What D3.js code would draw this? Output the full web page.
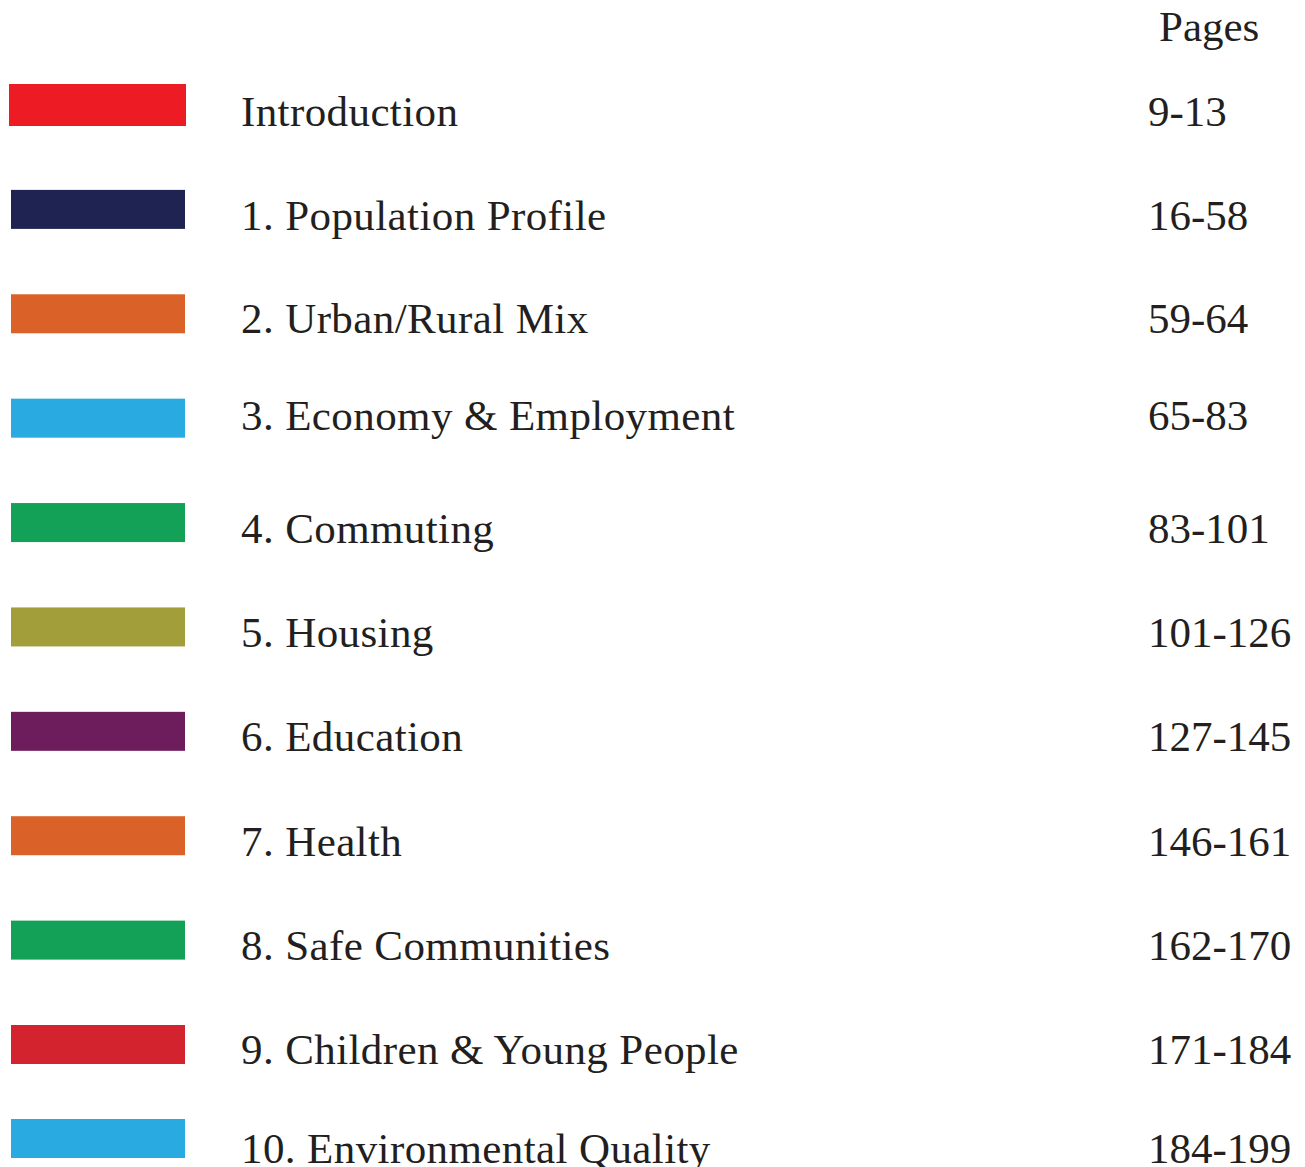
<!DOCTYPE html>
<html>
<head>
<meta charset="utf-8">
<script src="https://cdn.jsdelivr.net/npm/d3@7"></script>
<style>
  body { margin: 0; background: #fff; }
  text { font-family: "Liberation Serif", "DejaVu Serif", serif; fill: #231f20; }
</style>
</head>
<body>
<div id="toc"></div>
<script>
// contents list
var sections = ["Introduction", "1. Population Profile", "2. Urban/Rural Mix", "3. Economy & Employment",
    "4. Commuting", "5. Housing", "6. Education", "7. Health", "8. Safe Communities",
    "9. Children & Young People", "10. Environmental Quality"];
var pages = ["9-13", "16-58", "59-64", "65-83", "83-101", "101-126", "127-145", "146-161",
    "162-170", "171-184", "184-199"];
var colours = ["#ED1C24", "#1E2352", "#DA6128", "#29ABE2", "#13A157", "#A29E3A", "#6D1D5B",
    "#DA6128", "#13A157", "#D2232E", "#29ABE2"];

var width = 1305, height = 1167;

var svg = d3.select("#toc").append("svg")
    .attr("width", width)
    .attr("height", height);

// bar centres (last row sits a bit closer)
var yBar = d3.scaleLinear()
    .domain([0, 9, 10])
    .range([105, 1044.5, 1138.5]);

// text baselines
var yText = d3.scaleLinear()
    .domain([0, 1, 2, 3, 4, 9, 10])
    .range([126, 229.5, 333, 430, 543, 1064, 1163]);

var rows = svg.selectAll("g.row")
    .data(sections)
    .enter().append("g")
    .attr("class", "row");

rows.append("rect")
    .attr("x", function (d, i) { return i == 0 ? 9 : 11; })
    .attr("y", function (d, i) { return yBar(i) - (i == 0 ? 21 : 19.5); })
    .attr("width", function (d, i) { return i == 0 ? 177 : 174; })
    .attr("height", function (d, i) { return i == 0 ? 42 : 39; })
    .attr("fill", function (d, i) { return colours[i]; });

rows.append("text")
    .attr("x", 241)
    .attr("y", function (d, i) { return yText(i); })
    .style("font-size", "43px")
    .style("letter-spacing", "0.4px")
    .text(function (d) { return d; });

rows.append("text")
    .attr("x", 1148)
    .attr("y", function (d, i) { return yText(i); })
    .style("font-size", "43px")
    .text(function (d, i) { return pages[i]; });

svg.append("text")
    .attr("x", 1159)
    .attr("y", 41)
    .style("font-size", "43px")
    .text("Pages");
</script>
</body>
</html>
